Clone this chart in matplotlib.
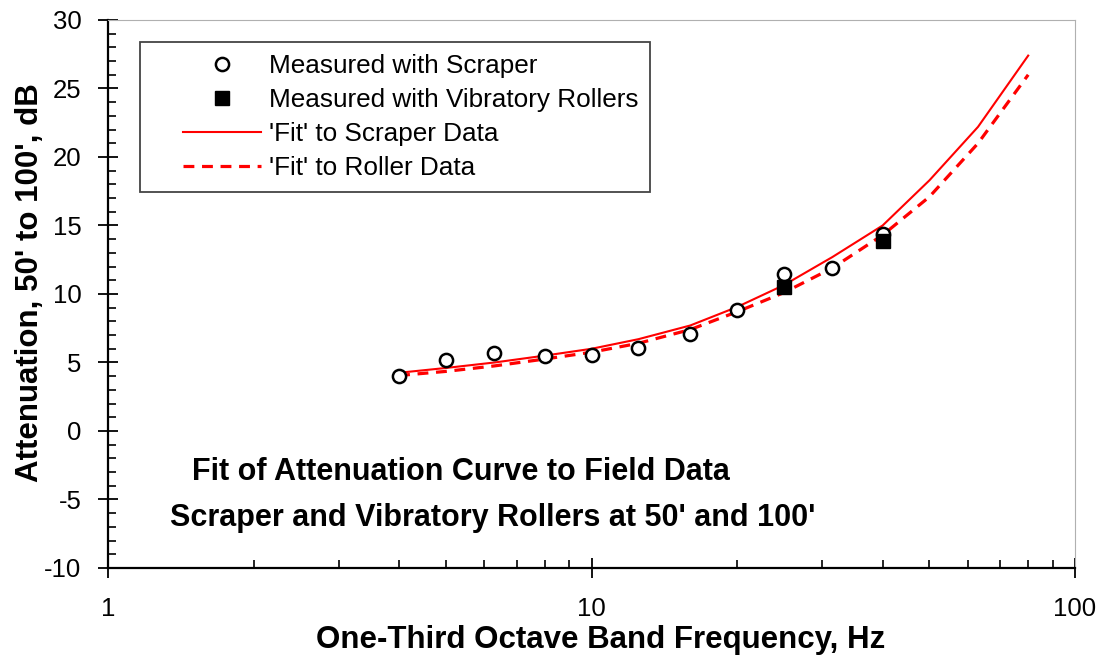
import numpy as np
import matplotlib.pyplot as plt
from matplotlib.ticker import MultipleLocator, FixedLocator, NullFormatter
from matplotlib.legend_handler import HandlerLine2D

plt.rcParams["font.family"] = ["Liberation Sans", "DejaVu Sans"]
plt.rcParams["axes.unicode_minus"] = False

# Mesures (bandes de tiers d'octave)
freq_scraper = [4, 5, 6.3, 8, 10, 12.5, 16, 20, 25, 31.5, 40]
atten_scraper = [4.0, 5.2, 5.7, 5.5, 5.55, 6.05, 7.1, 8.8, 11.45, 11.9, 14.4]

freq_roller = [25, 40]
atten_roller = [10.5, 13.9]

# Courbes ajustées
freq_fit = [4, 5, 6.3, 8, 10, 12.5, 16, 20, 25, 31.5, 40, 50, 63, 80]
fit_scraper = [4.25, 4.6, 5.0, 5.5, 6.0, 6.7, 7.7, 9.05, 10.65, 12.7, 15.0, 18.3, 22.2, 27.4]
fit_roller = [4.05, 4.35, 4.75, 5.25, 5.75, 6.4, 7.4, 8.7, 10.1, 11.9, 14.3, 17.1, 21.0, 26.0]


class ShiftedHandler(HandlerLine2D):
    # dessine l'échantillon uniquement dans la partie droite de la boîte
    def __init__(self, shift, **kw):
        super().__init__(**kw)
        self.shift = shift

    def create_artists(self, legend, orig_handle, xdescent, ydescent,
                       width, height, fontsize, trans):
        s = self.shift * fontsize
        return super().create_artists(legend, orig_handle, xdescent - s, ydescent,
                                      width - s, height, fontsize, trans)


fig = plt.figure(figsize=(11.05, 6.64), dpi=100)
ax = fig.add_axes([0.0977, 0.1446, 0.8752, 0.8253])

l_fit_s, = ax.plot(freq_fit, fit_scraper, "-", color="red", lw=1.5,
                   label="'Fit' to Scraper Data")
l_fit_r, = ax.plot(freq_fit, fit_roller, "--", color="red", lw=2.3, dashes=(3.4, 2.4),
                   label="'Fit' to Roller Data")
l_scr, = ax.plot(freq_scraper, atten_scraper, "o", ms=9.5, mfc="white", mec="black", mew=1.8,
                 label="Measured with Scraper", zorder=3)
l_rol, = ax.plot(freq_roller, atten_roller, "s", ms=9.5, mfc="black", mec="black",
                 label="Measured with Vibratory Rollers", zorder=4)

ax.set_xscale("log")
ax.set_xlim(1, 100)
ax.set_ylim(-10, 30)
ax.yaxis.set_major_locator(MultipleLocator(5))
ax.yaxis.set_minor_locator(MultipleLocator(1))
ax.xaxis.set_major_locator(FixedLocator([1, 10, 100]))
ax.xaxis.set_minor_locator(FixedLocator([2, 3, 4, 5, 6, 7, 8, 9, 20, 30, 40, 50, 60, 70, 80, 90]))
ax.xaxis.set_minor_formatter(NullFormatter())
ax.set_xticklabels(["1", "10", "100"])

ax.tick_params(which="major", direction="inout", length=14, width=1.3, labelsize=18.5)
ax.tick_params(which="minor", direction="in", length=6, width=1.2)
ax.tick_params(axis="y", which="major", pad=12)
ax.tick_params(axis="x", which="major", pad=14)
ax.tick_params(top=False, right=False)

for side in ["left", "bottom"]:
    ax.spines[side].set_linewidth(1.6)
for side in ["top", "right"]:
    ax.spines[side].set_color("#b0b0b0")
    ax.spines[side].set_linewidth(0.8)

ax.set_xlabel("One-Third Octave Band Frequency, Hz", fontsize=22.5, fontweight="bold")
ax.set_ylabel("Attenuation, 50' to 100', dB", fontsize=22.5, fontweight="bold")
ax.xaxis.set_label_coords(0.509, -0.104)
ax.yaxis.set_label_coords(-0.065, 0.52)

ax.text(0.365, 0.175, "Fit of Attenuation Curve to Field Data",
        transform=ax.transAxes, ha="center", va="center", fontsize=22, fontweight="bold")
ax.text(0.398, 0.092, "Scraper and Vibratory Rollers at 50' and 100'",
        transform=ax.transAxes, ha="center", va="center", fontsize=22, fontweight="bold")

leg_handles = [l_scr, l_rol, l_fit_s, l_fit_r]
handler = ShiftedHandler(1.2)
leg = ax.legend(leg_handles, [h.get_label() for h in leg_handles], loc="upper left",
                bbox_to_anchor=(0.033, 0.9599), fontsize=18.8, fancybox=False,
                edgecolor="#444444", framealpha=1, handlelength=4.2, handletextpad=0.3,
                borderpad=0.45, labelspacing=0.39, borderaxespad=0, markerscale=1.0,
                handler_map={h: handler for h in leg_handles})
leg.get_frame().set_linewidth(1.3)

plt.savefig("out.png", dpi=100)
